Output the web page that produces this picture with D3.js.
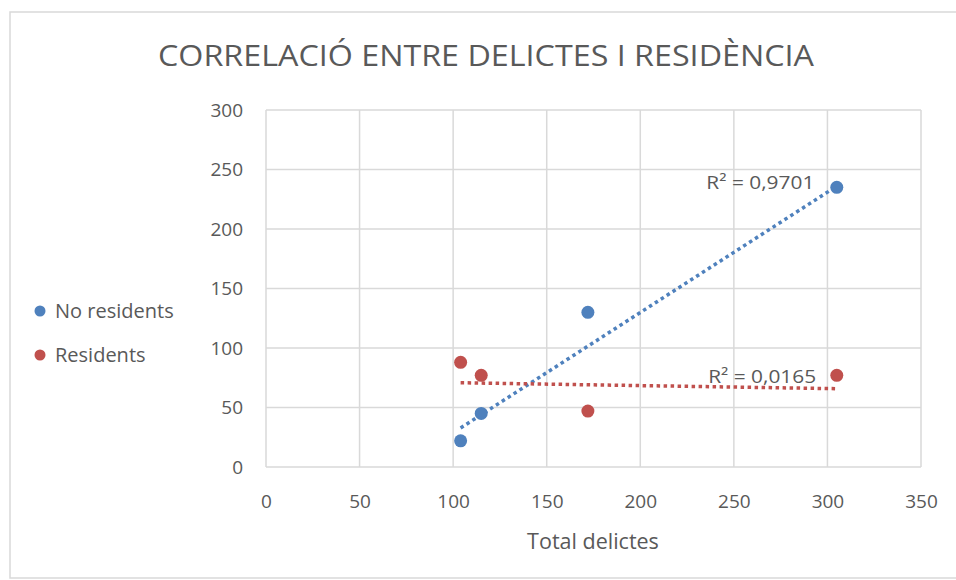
<!DOCTYPE html>
<html>
<head>
<meta charset="utf-8">
<script src="https://cdn.jsdelivr.net/npm/d3@7"></script>
<style>
  body { margin: 0; background: #fff; }
  text { font-family: "Open Sans", sans-serif; fill: #595959; }
</style>
</head>
<body>
<div id="chart"></div>
<script>
// data
const totalDelictes = [104, 115, 172, 305];
const noResidents = [22, 45, 130, 235];
const residents = [88, 77, 47, 77];
// trendline values at min / max of total delictes, as drawn in the picture
const trendNoResidents = [32.8, 236];
const trendResidents = [70.8, 65.8];
const seriesNames = ["No residents", "Residents"];
const r2Labels = ["R² = 0,9701", "R² = 0,0165"];
const r2LabelPos = [[293, 234], [294, 70.5]];   // data units, end of text
const xTicks = [0, 50, 100, 150, 200, 250, 300, 350];
const yTicks = [0, 50, 100, 150, 200, 250, 300];

const width = 956, height = 580;
const colours = ["#4F81BD", "#C0504D"];

const svg = d3.select("#chart").append("svg")
  .attr("width", width)
  .attr("height", height);

// chart border
svg.append("rect")
  .attr("x", 10).attr("y", 12)
  .attr("width", 960).attr("height", 566)
  .attr("fill", "none")
  .attr("stroke", "#d9d9d9")
  .attr("stroke-width", 1.5);

const x = d3.scaleLinear().domain([0, 350]).range([266, 921]);
const y = d3.scaleLinear().domain([0, 300]).range([467, 110]);

// title
svg.append("text")
  .attr("x", 486).attr("y", 66)
  .attr("text-anchor", "middle")
  .attr("textLength", 656)
  .attr("lengthAdjust", "spacingAndGlyphs")
  .style("font-size", "30px")
  .text("CORRELACIÓ ENTRE DELICTES I RESIDÈNCIA");

// gridlines
svg.append("g")
  .selectAll("line")
  .data(yTicks)
  .join("line")
  .attr("x1", x(0)).attr("x2", x(350))
  .attr("y1", d => y(d)).attr("y2", d => y(d))
  .attr("stroke", "#d9d9d9").attr("stroke-width", 1.5);

svg.append("g")
  .selectAll("line")
  .data(xTicks)
  .join("line")
  .attr("x1", d => x(d)).attr("x2", d => x(d))
  .attr("y1", y(0)).attr("y2", y(300))
  .attr("stroke", "#d9d9d9").attr("stroke-width", 1.5);

// axes (labels only, Excel style)
const xAxis = svg.append("g")
  .attr("transform", `translate(0, ${y(0)})`)
  .call(d3.axisBottom(x).tickValues(xTicks).tickSize(0).tickPadding(28));
const yAxis = svg.append("g")
  .attr("transform", `translate(${x(0) - 23}, 0)`)
  .call(d3.axisLeft(y).tickValues(yTicks).tickSize(0).tickPadding(0));
[xAxis, yAxis].forEach(a => {
  a.select(".domain").remove();
  a.selectAll("text")
    .style("font-family", "'Open Sans', sans-serif")
    .style("font-size", "19px")
    .attr("fill", "#595959");
});

svg.append("text")
  .attr("x", 593).attr("y", 549)
  .attr("text-anchor", "middle")
  .style("font-size", "21.5px")
  .text("Total delictes");

const series = [noResidents, residents];
const trends = [trendNoResidents, trendResidents];
const xExtent = d3.extent(totalDelictes);

// dotted linear trendlines
svg.append("g")
  .selectAll("line")
  .data(trends)
  .join("line")
  .attr("x1", x(xExtent[0])).attr("y1", d => y(d[0]))
  .attr("x2", x(xExtent[1])).attr("y2", d => y(d[1]))
  .attr("stroke", (d, i) => colours[i])
  .attr("stroke-width", 3.5)
  .attr("stroke-dasharray", "3.5,3.5");

// points
series.forEach((ys, i) => {
  svg.append("g")
    .selectAll("circle")
    .data(ys)
    .join("circle")
    .attr("cx", (d, j) => x(totalDelictes[j]))
    .attr("cy", d => y(d))
    .attr("r", 6.5)
    .attr("fill", colours[i]);
});

// R² labels
svg.append("g")
  .selectAll("text")
  .data(r2Labels)
  .join("text")
  .attr("x", (d, i) => x(r2LabelPos[i][0]))
  .attr("y", (d, i) => y(r2LabelPos[i][1]))
  .attr("text-anchor", "end")
  .attr("textLength", 108)
  .attr("lengthAdjust", "spacingAndGlyphs")
  .style("font-size", "18px")
  .text(d => d);

// legend
const legend = svg.append("g")
  .selectAll("g")
  .data(seriesNames)
  .join("g")
  .attr("transform", (d, i) => `translate(40, ${311 + i * 44})`);
legend.append("circle")
  .attr("r", 5.5)
  .attr("fill", (d, i) => colours[i]);
legend.append("text")
  .attr("x", 15).attr("y", 7)
  .style("font-size", "20px")
  .text(d => d);
</script>
</body>
</html>
